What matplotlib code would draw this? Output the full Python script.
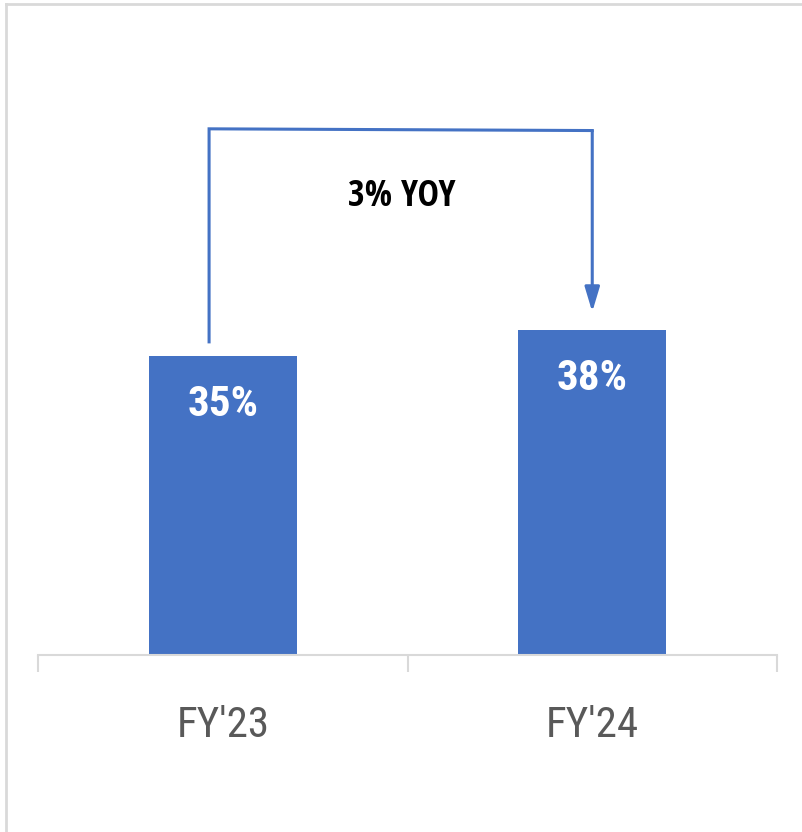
import matplotlib
matplotlib.use('Agg')
import matplotlib.pyplot as plt
from matplotlib.lines import Line2D

categories = ["FY'23", "FY'24"]
values = [35, 38]
value_labels = ['35%', '38%']
yoy_label = '3% YOY'

blue = '#4472C4'
grid_grey = '#D9D9D9'
narrow = ['Roboto Condensed', 'DejaVu Sans']
yoy_font = ['Open Sans Condensed', 'Roboto Condensed', 'DejaVu Sans']

fig = plt.figure(figsize=(8.02, 8.32), dpi=100)
ax = fig.add_axes([38/802, 177/832, 739/802, 616/832])

x = list(range(len(categories)))
ax.bar(x, values, width=0.4, color=blue, zorder=2)
ax.set_xlim(-0.5, len(categories) - 0.5)
ax.set_ylim(0, 72)

for s in ['top', 'right', 'left']:
    ax.spines[s].set_visible(False)
ax.spines['bottom'].set_color(grid_grey)
ax.spines['bottom'].set_linewidth(1.5)
ax.set_yticks([])

ax.set_xticks(x)
ax.set_xticklabels(categories, fontfamily=narrow, fontsize=31, color='#595959')
ax.tick_params(axis='x', which='major', length=0, pad=36)
ax.set_xticks([i - 0.5 for i in range(len(categories) + 1)], minor=True)
ax.tick_params(axis='x', which='minor', length=12, width=1.5, color=grid_grey)

# value labels inside the bars
for xi, v, lab in zip(x, values, value_labels):
    ax.text(xi, v - 5.7, lab, ha='center', va='center', color='white',
            fontsize=31, fontweight='bold', fontfamily=narrow)

# YOY bracket arrow
top = 61.5
ax.plot([x[0] - 0.037, x[0] - 0.037, x[1]], [values[0] + 1.6, top, top - 0.2],
        color=blue, linewidth=2.2, solid_joinstyle='miter', zorder=3)
ax.annotate('', xy=(x[1], values[1] + 2.1), xytext=(x[1], top - 0.2),
            arrowprops=dict(arrowstyle='-|>,head_length=1.5,head_width=0.45',
                            color=blue, linewidth=2.2, shrinkA=0, shrinkB=0))
ax.text(0.485, 53.5, yoy_label, ha='center', va='center', color='black',
        fontsize=26, fontweight='bold', fontfamily=yoy_font)

# light frame on top and left edges
fig.add_artist(Line2D([6/802, 1], [1 - 4/832, 1 - 4/832], color=grid_grey,
                      linewidth=2, transform=fig.transFigure))
fig.add_artist(Line2D([6/802, 6/802], [0, 1 - 4/832], color=grid_grey,
                      linewidth=2, transform=fig.transFigure))

plt.savefig('out.png', dpi=100)
